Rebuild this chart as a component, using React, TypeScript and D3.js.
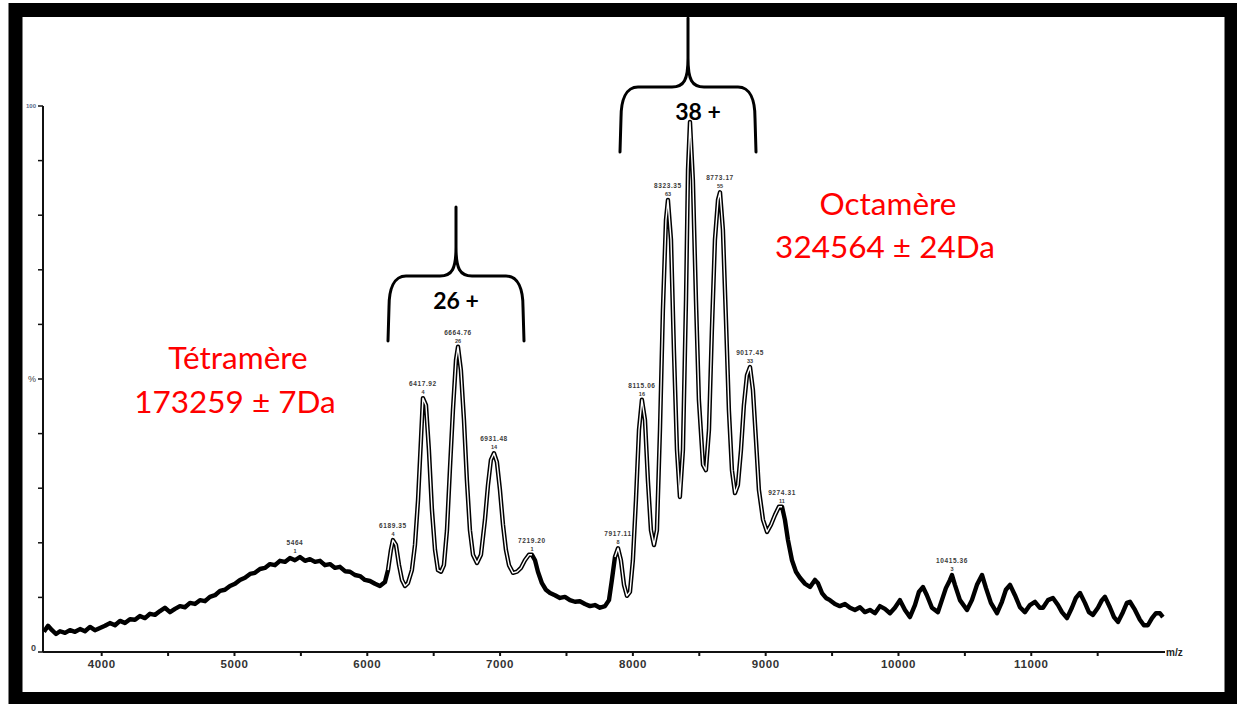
import React from 'react';
import * as d3 from 'd3';

const mzValues = [
  3565, 3596, 3626, 3656, 3686, 3724, 3761, 3799, 3837, 3874, 3912, 3949, 3987, 4025, 4062, 4100,
  4138, 4175, 4213, 4251, 4288, 4326, 4364, 4401, 4439, 4476, 4514, 4552, 4589, 4627, 4665, 4702,
  4740, 4778, 4815, 4853, 4891, 4928, 4966, 5004, 5041, 5079, 5117, 5154, 5192, 5229, 5267, 5305,
  5342, 5380, 5418, 5455, 5493, 5531, 5568, 5606, 5644, 5681, 5719, 5757, 5794, 5832, 5870, 5907,
  5945, 5982, 6020, 6058, 6095, 6133, 6156, 6178, 6193, 6216, 6239, 6261, 6284, 6306, 6336, 6359,
  6382, 6404, 6419, 6442, 6464, 6487, 6510, 6532, 6555, 6577, 6600, 6622, 6645, 6668, 6683, 6705,
  6728, 6750, 6773, 6796, 6826, 6856, 6886, 6909, 6931, 6954, 6976, 6999, 7022, 7044, 7067, 7097,
  7127, 7157, 7187, 7217, 7240, 7263, 7285, 7315, 7345, 7376, 7413, 7451, 7488, 7526, 7564, 7601,
  7639, 7677, 7714, 7752, 7790, 7820, 7842, 7865, 7888, 7910, 7933, 7955, 7978, 8000, 8023, 8046,
  8068, 8091, 8113, 8136, 8159, 8181, 8204, 8226, 8249, 8264, 8287, 8309, 8332, 8354, 8377, 8400,
  8415, 8430, 8452, 8475, 8497, 8528, 8550, 8573, 8595, 8618, 8641, 8656, 8678, 8701, 8723, 8746,
  8769, 8791, 8814, 8836, 8859, 8882, 8904, 8927, 8949, 8980, 9010, 9040, 9070, 9100, 9123, 9145,
  9168, 9198, 9228, 9258, 9296, 9334, 9371, 9394, 9424, 9454, 9484, 9522, 9559, 9597, 9635, 9672,
  9710, 9747, 9785, 9823, 9860, 9898, 9936, 9973, 10011, 10049, 10086, 10124, 10154, 10184, 10214, 10252,
  10297, 10327, 10357, 10388, 10403, 10425, 10463, 10516, 10553, 10591, 10629, 10659, 10696, 10742, 10779, 10809,
  10840, 10877, 10915, 10952, 10990, 11028, 11065, 11088, 11126, 11163, 11201, 11231, 11269, 11306, 11336, 11367,
  11404, 11434, 11464, 11502, 11532, 11555, 11592, 11623, 11653, 11690, 11720, 11743, 11781, 11818, 11848, 11878,
  11909, 11939, 11969, 11991,
];

// relative intensity (%) at each m/z above
const intensityValues = [
  3.7, 4.8, 4.0, 3.3, 3.8, 3.5, 4.0, 3.7, 4.2, 3.8, 4.6, 4.0, 4.4, 4.8, 5.3, 4.9,
  5.7, 5.3, 6.0, 5.9, 6.6, 6.2, 7.0, 6.8, 7.5, 8.1, 7.3, 7.9, 8.4, 8.2, 9.0, 8.8,
  9.5, 9.3, 10.1, 10.4, 11.2, 11.4, 12.1, 12.5, 13.2, 13.6, 14.3, 14.5, 15.2, 15.4, 16.1, 15.9,
  16.7, 16.5, 17.2, 16.8, 17.4, 16.7, 17.0, 16.5, 16.7, 15.9, 16.1, 15.4, 15.6, 14.8, 14.7, 14.1,
  13.9, 13.2, 13.0, 12.5, 12.1, 12.8, 15.0, 18.7, 20.5, 19.6, 15.9, 13.2, 12.1, 12.6, 15.0, 19.6,
  27.8, 38.8, 46.5, 45.2, 37.0, 26.0, 18.7, 15.0, 14.7, 15.9, 22.3, 33.3, 44.3, 53.5, 55.9, 51.6,
  42.5, 31.5, 22.3, 17.8, 16.3, 17.8, 24.2, 30.6, 35.2, 36.4, 34.8, 29.7, 23.3, 18.7, 15.9, 14.5,
  14.7, 15.4, 16.8, 17.8, 17.8, 16.8, 14.7, 12.6, 11.4, 10.8, 10.4, 9.9, 10.1, 9.5, 9.2, 9.3,
  8.8, 8.4, 8.6, 8.1, 8.4, 9.5, 13.2, 17.4, 19.0, 16.8, 12.3, 10.3, 11.0, 16.8, 27.8, 40.7,
  46.2, 42.5, 31.5, 22.3, 19.6, 22.3, 40.7, 62.6, 79.1, 82.8, 75.5, 55.3, 37.0, 28.4, 37.0, 64.5,
  88.3, 97.1, 86.4, 64.5, 46.2, 34.3, 33.3, 40.7, 59.0, 75.5, 82.8, 84.2, 77.3, 60.8, 44.3, 33.3,
  29.1, 30.6, 37.0, 45.2, 50.7, 52.2, 48.0, 38.8, 29.7, 24.2, 22.0, 23.3, 25.1, 26.6, 26.6, 24.2,
  20.5, 16.8, 14.7, 13.6, 12.5, 11.9, 13.2, 12.6, 10.8, 9.9, 9.5, 8.8, 8.4, 8.8, 8.1, 7.7,
  8.2, 7.3, 7.7, 7.1, 8.4, 7.9, 7.1, 8.1, 9.5, 7.7, 6.4, 8.6, 11.0, 11.9, 10.4, 8.1,
  7.3, 9.5, 11.7, 13.2, 14.1, 12.3, 9.5, 7.7, 9.5, 12.3, 14.1, 11.7, 9.0, 7.1, 9.2, 11.4,
  12.3, 10.4, 8.2, 7.3, 8.6, 9.2, 8.1, 8.1, 9.5, 9.9, 8.6, 7.3, 6.2, 8.1, 9.9, 10.8,
  9.0, 7.3, 6.8, 8.1, 9.5, 10.1, 8.2, 6.4, 5.5, 7.3, 9.0, 9.2, 7.7, 5.9, 4.9, 4.9,
  6.2, 7.1, 7.1, 6.4,
];

const xTickValues = [4000, 5000, 6000, 7000, 8000, 9000, 10000, 11000];
const xMinorTickValues = [4500, 5500, 6500, 7500, 8500, 9500, 10500, 11500];
const yTickValues = [0, 10, 20, 30, 40, 50, 60, 70, 80, 90, 100];

// peak annotations (centroid m/z, apex intensity, label lines)
const peakMz = [5455, 6193, 6419, 6683, 6954, 7240, 7888, 8068, 8264, 8656, 8882, 9123, 10403];
const peakIntensity = [17.4, 20.5, 46.5, 55.9, 36.4, 17.8, 19.0, 46.2, 82.8, 84.2, 52.2, 26.6, 14.1];
const peakLabelTop = ['5464', '6189.35', '6417.92', '6664.76', '6931.48', '7219.20', '7917.11',
  '8115.06', '8323.35', '8773.17', '9017.45', '9274.31', '10415.36'];
const peakLabelSub = ['1', '4', '4', '26', '14', '1', '8', '16', '63', '55', '33', '11', '3'];

// outlined (double-line) stretches of the trace: the steep charge-state envelopes
const envelopeRanges: [number, number][] = [[6150, 7255], [7850, 9140]];

const chargeLabels = ['26 +', '38 +'];
const chargeMz = [6683, 8430];

export default function App() {
  const width = 1237;
  const height = 704;
  const x = d3.scaleLinear().domain([3558, 12007]).range([43, 1165]);
  const y = d3.scaleLinear().domain([0, 100]).range([652, 106]);

  const pts: [number, number][] = mzValues.map((m, i) => [m, intensityValues[i]]);
  const line = d3.line<[number, number]>().x(d => x(d[0])).y(d => y(d[1])).curve(d3.curveLinear);
  const mainPath = line(pts) || '';
  const innerPaths = envelopeRanges.map(([a, b]) => line(pts.filter(d => d[0] >= a && d[0] <= b)) || '');

  const brace = (cx: number, top: number) => {
    const h = 69;
    return `M${cx},${top} L${cx},${top + 40} C${cx},${top + 62} ${cx - 4},${top + h} ${cx - 16},${top + h}` +
      ` L${cx - 50},${top + h} C${cx - 62},${top + h} ${cx - 67},${top + 82} ${cx - 67},${top + 100} L${cx - 68},${top + 134}` +
      ` M${cx},${top + 40} C${cx},${top + 62} ${cx + 4},${top + h} ${cx + 16},${top + h}` +
      ` L${cx + 50},${top + h} C${cx + 62},${top + h} ${cx + 67},${top + 82} ${cx + 67},${top + 100} L${cx + 68},${top + 134}`;
  };
  const braceTop = [207, 18];
  const labelDx = [-2, 8];

  return (
    <svg width={width} height={height} style={{ position: 'absolute', left: 0, top: 0, background: '#fff' }}>
      <rect x={0} y={0} width={width} height={height} fill="#fff" />
      <rect x={15.5} y={10} width={1216} height={689} fill="#fff" stroke="#000" strokeWidth={14} />

      {/* axes */}
      <line x1={43} y1={y(100)} x2={43} y2={y(0)} stroke="#111" strokeWidth={2} />
      <line x1={43} y1={y(0)} x2={x(12007)} y2={y(0)} stroke="#111" strokeWidth={2} />
      {yTickValues.map(t => (
        <line key={'yt' + t} x1={38} x2={43} y1={y(t)} y2={y(t)} stroke="#111" strokeWidth={1.5} />
      ))}
      {xTickValues.concat(xMinorTickValues).map(t => (
        <line key={'xt' + t} x1={x(t)} x2={x(t)} y1={y(0)} y2={y(0) + 4} stroke="#111" strokeWidth={2} />
      ))}
      {xTickValues.map(t => (
        <text key={'xl' + t} x={x(t)} y={668} textAnchor="middle" fontFamily="Liberation Sans, Arial, sans-serif"
          fontSize={11.5} fontWeight="bold" letterSpacing={0.6} fill="#333">{t}</text>
      ))}
      <text x={1166} y={656} fontFamily="Liberation Sans, Arial, sans-serif" fontSize={10} fontWeight="bold" fill="#222">m/z</text>
      <text x={36} y={y(100) + 2} textAnchor="end" fontFamily="Liberation Sans, Arial, sans-serif" fontSize={6} fontWeight="bold" fill="#5a6a8a">100</text>
      <text x={36} y={y(50) + 3} textAnchor="end" fontFamily="Liberation Sans, Arial, sans-serif" fontSize={9} fill="#444">%</text>
      <text x={36} y={y(0) - 1} textAnchor="end" fontFamily="Liberation Sans, Arial, sans-serif" fontSize={9} fontWeight="bold" fill="#444">0</text>

      {/* spectrum */}
      <path d={mainPath} fill="none" stroke="#000" strokeWidth={4.4} strokeLinejoin="round" />
      {innerPaths.map((d, i) => (
        <path key={'ip' + i} d={d} fill="none" stroke="#fff" strokeWidth={1.4} strokeLinejoin="round" />
      ))}

      {/* peak labels */}
      {peakMz.map((m, i) => (
        <g key={'pl' + i} fontFamily="Liberation Sans, Arial, sans-serif" fontWeight="bold" fill="#3b3b3b">
          <text x={x(m)} y={y(peakIntensity[i]) - 12} textAnchor="middle" fontSize={6.5} letterSpacing={0.6}>{peakLabelTop[i]}</text>
          <text x={x(m)} y={y(peakIntensity[i]) - 4} textAnchor="middle" fontSize={5.5}>{peakLabelSub[i]}</text>
        </g>
      ))}

      {/* charge state braces */}
      {chargeMz.map((m, i) => (
        <g key={'cb' + i}>
          <path d={brace(Math.round(x(m)) - 2, braceTop[i])} fill="none" stroke="#000" strokeWidth={3} strokeLinecap="round" />
          <text x={Math.round(x(m)) + labelDx[i]} y={braceTop[i] + 102} textAnchor="middle" fontFamily="Lato, Open Sans, sans-serif"
            fontSize={23} fontWeight="bold" fill="#000">{chargeLabels[i]}</text>
        </g>
      ))}

      {/* species annotations */}
      <g fontFamily="Lato, Open Sans, sans-serif" fill="#ff0000" fontSize={31.5} textAnchor="middle">
        <text x={238} y={369}>Tétramère</text>
        <text x={235} y={413}>173259 ± 7Da</text>
        <text x={888} y={215}>Octamère</text>
        <text x={885} y={258}>324564 ± 24Da</text>
      </g>
    </svg>
  );
}
